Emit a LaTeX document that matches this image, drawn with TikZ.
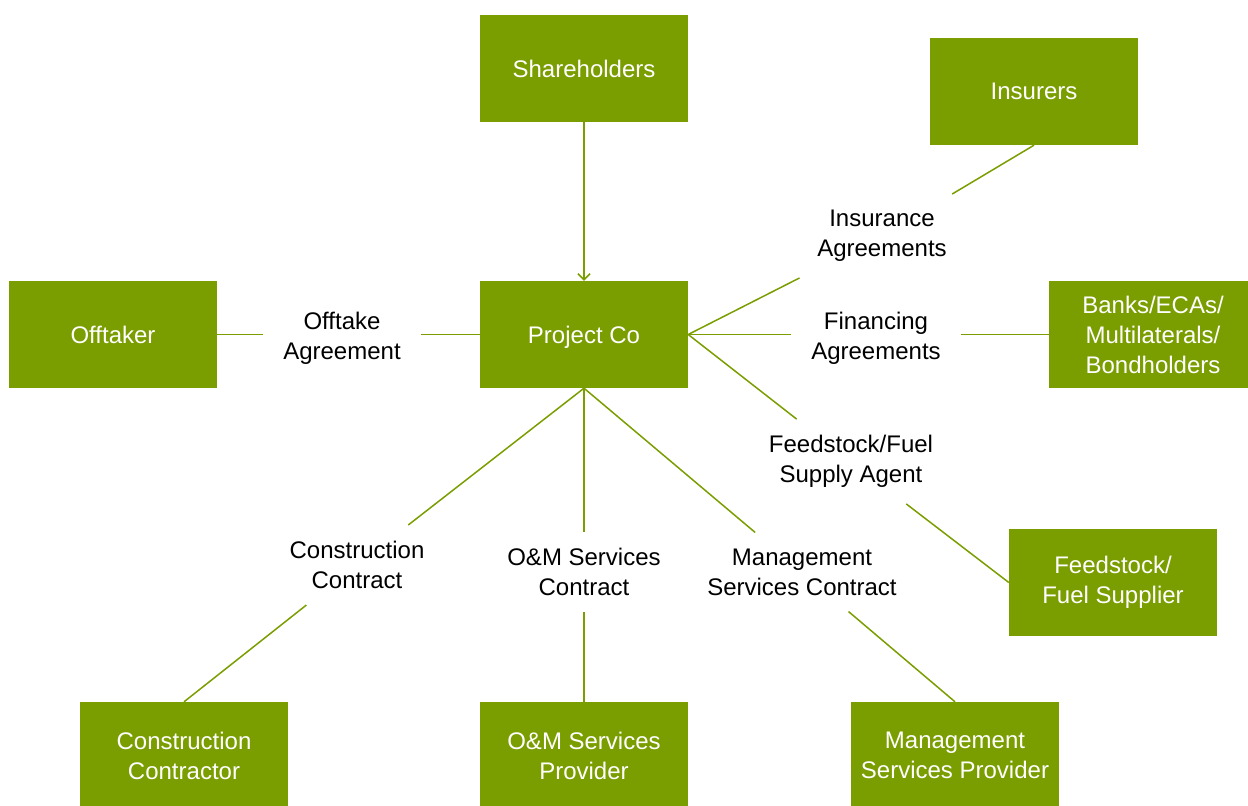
\documentclass[tikz,border=0pt]{standalone}
\usepackage{fontspec}
\setmainfont{Liberation Sans}
\usepackage{xcolor}
\usetikzlibrary{arrows.meta}
\definecolor{leafgreen}{RGB}{122,157,0}

\begin{document}
\begin{tikzpicture}[x=1pt,y=-1pt,
  party/.style={fill=leafgreen, text=white, minimum width=208pt, minimum height=107pt, inner sep=0pt, align=center, font=\fontsize{24}{30}\selectfont},
  deal/.style={align=center, inner xsep=20pt, inner ysep=16pt, font=\fontsize{24}{30}\selectfont},
  link/.style={leafgreen, line width=1.5pt}]
\useasboundingbox (0,0) rectangle (1248,806);
\node[party] (share) at (584,68.5) {Shareholders};
\node[party] (insr) at (1034,91.5) {Insurers};
\node[party] (offt) at (113,334.5) {Offtaker};
\node[party, text depth=0pt] (pco) at (584,334.5) {Project Co};
\node[party] (bank) at (1153,334.5) {Banks/ECAs/\\Multilaterals/\\Bondholders};
\node[party] (fuel) at (1113,582.5) {Feedstock/\\Fuel Supplier};
\node[party] (cons) at (184,755.5) {Construction\\Contractor};
\node[party] (omsp) at (584,755.5) {O\&M Services\\Provider};
\node[party] (mgsp) at (955,755.5) {Management\\Services Provider};
\node[deal] (insag) at (882,236) {Insurance\\Agreements};
\node[deal] (offag) at (342,338) {Offtake\\Agreement};
\node[deal] (finag) at (876,338) {Financing\\Agreements};
\node[deal] (fuelag) at (851,461.5) {Feedstock/Fuel\\Supply Agent};
\node[deal] (consag) at (357,565) {Construction\\Contract};
\node[deal] (omag) at (584,572) {O\&M Services\\Contract};
\node[deal] (mgag) at (802,572) {Management\\Services Contract};
\draw[link, -{Straight Barb[length=6pt,width=12pt]}] (share.south) -- (pco.north);
\draw[link] (insr.south) -- (insag);
\draw[link] (insag) -- (pco.east);
\draw[link] (offt.east) -- (offt.east -| offag.west);
\draw[link] (offag.east |- pco.west) -- (pco.west);
\draw[link] (pco.east) -- (pco.east -| finag.west);
\draw[link] (finag.east |- bank.west) -- (bank.west);
\draw[link] (pco.east) -- (fuelag);
\draw[link] (fuelag) -- (fuel.west);
\draw[link] (pco.south) -- (consag);
\draw[link] (consag) -- (cons.north);
\draw[link] (pco.south) -- (omag);
\draw[link] (omag) -- (omsp.north);
\draw[link] (pco.south) -- (mgag);
\draw[link] (mgag) -- (mgsp.north);
\end{tikzpicture}
\end{document}
